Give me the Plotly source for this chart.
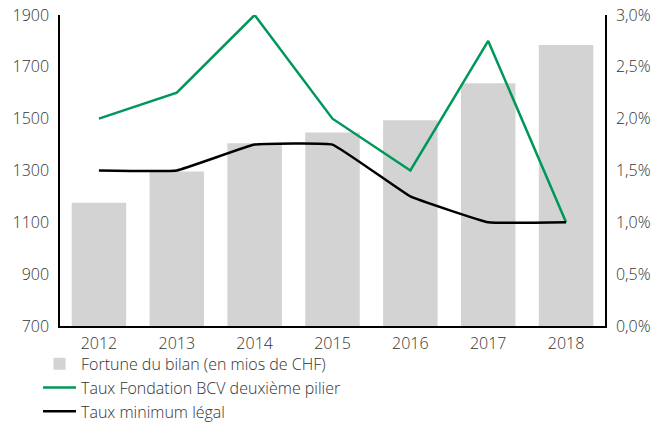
import plotly.graph_objects as go

years = ["2012", "2013", "2014", "2015", "2016", "2017", "2018"]
fortune = [1176, 1296, 1405, 1447, 1494, 1637, 1784]
taux_bcv = [2.0, 2.25, 3.0, 2.0, 1.5, 2.75, 1.0]
taux_min = [1.5, 1.5, 1.75, 1.75, 1.25, 1.0, 1.0]

left_ticks = [700, 900, 1100, 1300, 1500, 1700, 1900]
right_ticks = [0.0, 0.5, 1.0, 1.5, 2.0, 2.5, 3.0]
right_labels = ["0,0%", "0,5%", "1,0%", "1,5%", "2,0%", "2,5%", "3,0%"]

font_family = "Open Sans, Lato, sans-serif"
text_color = "#333333"
fs = 16
legend_fs = 16

fig = go.Figure()
fig.add_trace(go.Bar(
    x=years, y=fortune, name="Fortune du bilan (en mios de CHF)",
    marker=dict(color="#d3d3d3", line=dict(width=0)),
    yaxis="y",
))
fig.add_trace(go.Scatter(
    x=years, y=taux_bcv, name="Taux Fondation BCV deuxième pilier",
    mode="lines", line=dict(color="#00985a", width=2.5),
    yaxis="y2", cliponaxis=False,
))
fig.add_trace(go.Scatter(
    x=years, y=taux_min, name="Taux minimum légal",
    mode="lines", line=dict(color="#000000", width=2.5, shape="spline", smoothing=0.25),
    yaxis="y2", cliponaxis=False,
))

fig.update_layout(
    width=667, height=423,
    margin=dict(l=60, r=62, t=15, b=97, autoexpand=False),
    paper_bgcolor="white", plot_bgcolor="white",
    font=dict(family=font_family, size=fs, color=text_color, weight=300),
    bargap=0.3,
    showlegend=True,
    legend=dict(
        xref="container", yref="container",
        x=0.057, y=0.180, xanchor="left", yanchor="top",
        orientation="v", bgcolor="rgba(0,0,0,0)",
        font=dict(size=legend_fs, color=text_color, weight=300),
        tracegroupgap=0, itemwidth=33,
    ),
    xaxis=dict(
        type="category", showgrid=False, showline=True, linecolor="black",
        linewidth=1.5, ticks="outside", ticklen=2, tickcolor="rgba(0,0,0,0)",
        tickfont=dict(size=fs, color=text_color, weight=300), zeroline=False,
    ),
    yaxis=dict(
        range=[700, 1900], tickvals=left_ticks, ticktext=[str(v) for v in left_ticks],
        showgrid=False, showline=True, linecolor="black", linewidth=1.5,
        ticks="outside", ticklen=6, tickcolor="rgba(0,0,0,0)",
        zeroline=False, tickfont=dict(size=fs, color=text_color, weight=300),
    ),
    yaxis2=dict(
        range=[0, 3.0], overlaying="y", side="right",
        tickvals=right_ticks, ticktext=right_labels,
        showgrid=False, showline=True, linecolor="black", linewidth=1.5,
        ticks="outside", ticklen=6, tickcolor="rgba(0,0,0,0)",
        zeroline=False, tickfont=dict(size=fs, color=text_color, weight=300),
    ),
)

fig.write_html(
    "out.html",
    config={"displayModeBar": False},
    post_script="document.body.style.margin='0px';document.body.style.overflow='hidden';",
)
